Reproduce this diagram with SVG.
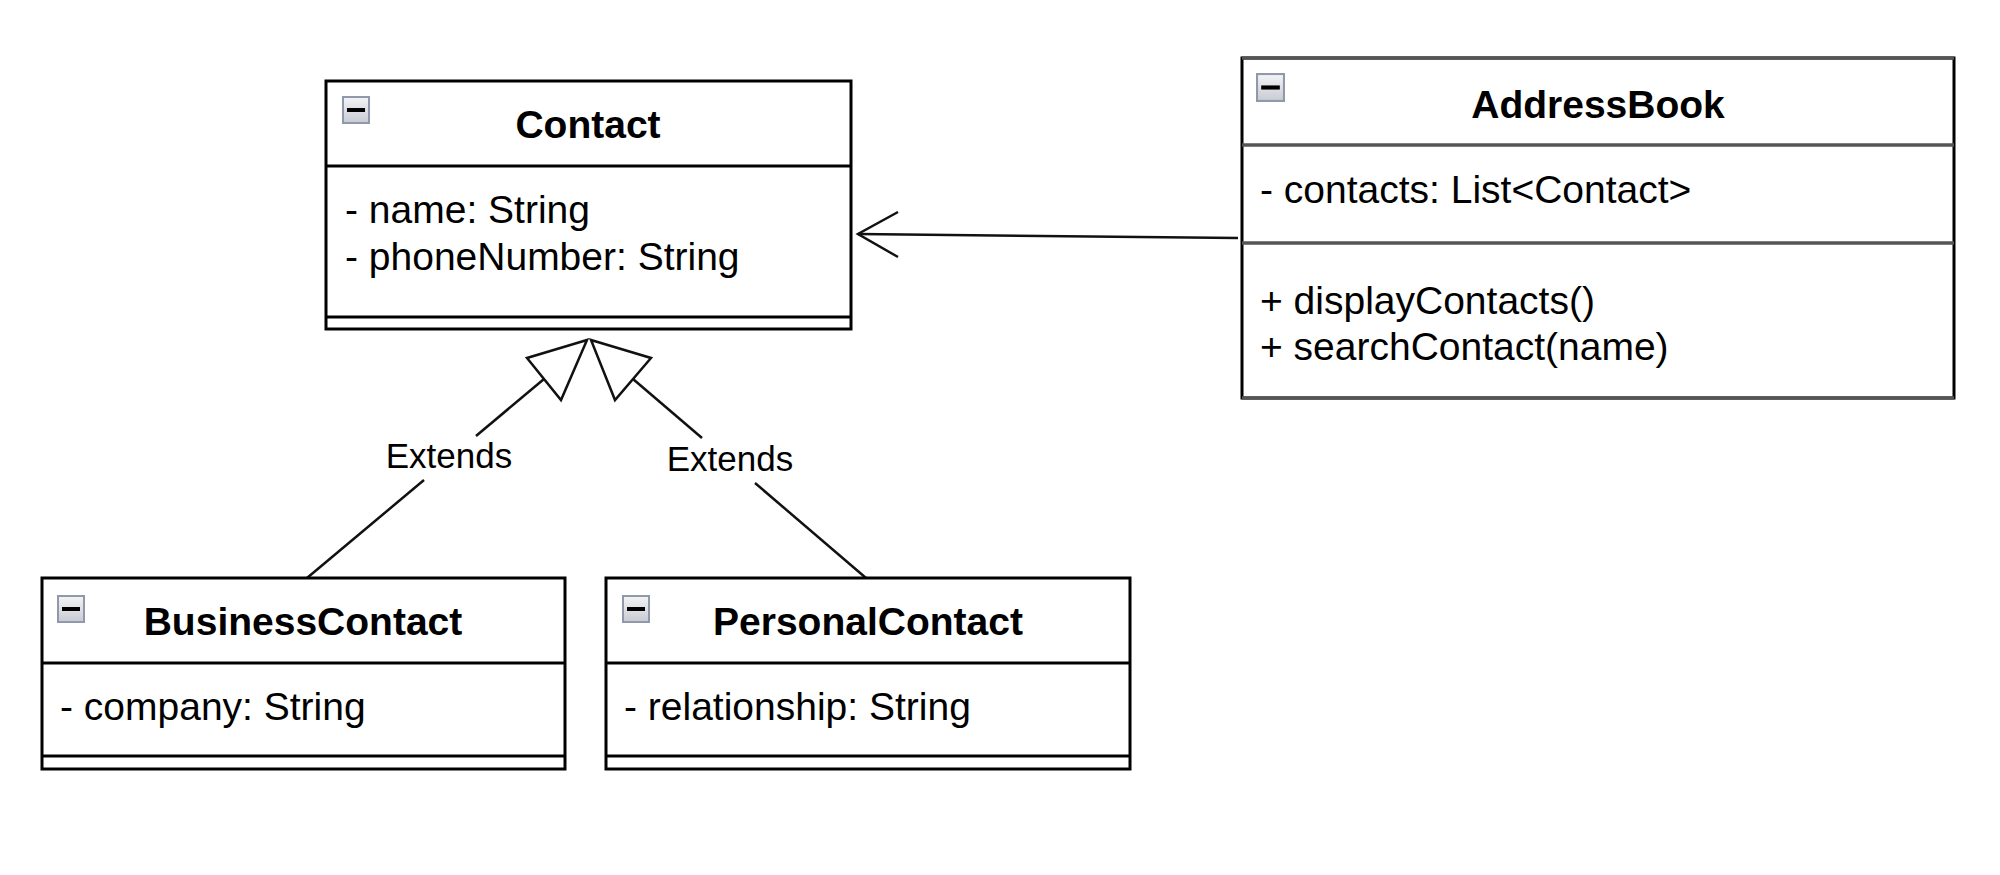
<svg xmlns="http://www.w3.org/2000/svg" width="2000" height="875" viewBox="0 0 2000 875">
<style>
.box{fill:#fff;stroke:#000;stroke-width:3}
.sep{stroke:#000;stroke-width:3}
.gsep{stroke:#555;stroke-width:3.5}
.title{font-family:"Liberation Sans",Arial,sans-serif;font-size:39px;font-weight:bold;fill:#000;text-anchor:middle}
.attr{font-family:"Liberation Sans",Arial,sans-serif;font-size:39px;fill:#000}
.lbl{font-family:"Liberation Sans",Arial,sans-serif;font-size:35px;fill:#000;text-anchor:middle}
.edge{fill:none;stroke:#111;stroke-width:2.5}
.tri{fill:#fff;stroke:#111;stroke-width:2.5;stroke-linejoin:miter}
.icon rect.o{fill:url(#ig);stroke:#8f99ab;stroke-width:2}
.icon rect.m{fill:#000}
</style>
<defs>
<linearGradient id="ig" x1="0" y1="0" x2="0" y2="1">
<stop offset="0" stop-color="#f4f4f6"/>
<stop offset="1" stop-color="#c8cbd2"/>
</linearGradient>
<symbol id="collapse" viewBox="0 0 28 28">
<rect class="o" x="1" y="1" width="26" height="26" fill="url(#ig)" stroke="#8f99ab" stroke-width="2"/>
<rect class="m" x="5" y="12" width="18" height="4" fill="#000"/>
</symbol>
</defs>
<rect width="2000" height="875" fill="#fff"/>

<g id="connectors">
<!-- association AddressBook -> Contact -->
<line class="edge" x1="1238" y1="238" x2="858" y2="234"/>
<polyline class="edge" points="898,212 858,234 898,257"/>
<!-- BusinessContact extends Contact -->
<line class="edge" x1="307" y1="578" x2="424" y2="480"/>
<line class="edge" x1="476" y1="436" x2="544" y2="379"/>
<polygon class="tri" points="587,340 527,358 561,400"/>
<text class="lbl" x="449" y="468">Extends</text>
<!-- PersonalContact extends Contact -->
<line class="edge" x1="866" y1="578" x2="755" y2="483"/>
<line class="edge" x1="702" y1="438" x2="633" y2="379"/>
<polygon class="tri" points="591,340 651,358 615,400"/>
<text class="lbl" x="730" y="471">Extends</text>
</g>

<g id="Contact">
<rect class="box" x="326" y="81" width="525" height="248"/>
<line class="sep" x1="326" y1="166" x2="851" y2="166"/>
<line class="sep" x1="326" y1="317" x2="851" y2="317"/>
<use href="#collapse" x="342" y="96" width="28" height="28"/>
<text class="title" x="588" y="138">Contact</text>
<text class="attr" x="345" y="223">- name: String</text>
<text class="attr" x="345" y="270">- phoneNumber: String</text>
</g>

<g id="AddressBook">
<rect class="box" x="1242" y="58" width="712" height="340"/>
<line class="gsep" x1="1242" y1="58" x2="1954" y2="58"/>
<line class="gsep" x1="1242" y1="145" x2="1954" y2="145"/>
<line class="gsep" x1="1242" y1="243" x2="1954" y2="243"/>
<line class="gsep" x1="1242" y1="398" x2="1954" y2="398"/>
<use href="#collapse" x="1256" y="73" width="29" height="29"/>
<text class="title" x="1598" y="118">AddressBook</text>
<text class="attr" x="1260" y="203">- contacts: List&lt;Contact&gt;</text>
<text class="attr" x="1260" y="314">+ displayContacts()</text>
<text class="attr" x="1260" y="360">+ searchContact(name)</text>
</g>

<g id="BusinessContact">
<rect class="box" x="42" y="578" width="523" height="191"/>
<line class="sep" x1="42" y1="663" x2="565" y2="663"/>
<line class="sep" x1="42" y1="756" x2="565" y2="756"/>
<use href="#collapse" x="57" y="595" width="28" height="28"/>
<text class="title" x="303" y="635">BusinessContact</text>
<text class="attr" x="60" y="720">- company: String</text>
</g>

<g id="PersonalContact">
<rect class="box" x="606" y="578" width="524" height="191"/>
<line class="sep" x1="606" y1="663" x2="1130" y2="663"/>
<line class="sep" x1="606" y1="756" x2="1130" y2="756"/>
<use href="#collapse" x="622" y="595" width="28" height="28"/>
<text class="title" x="868" y="635">PersonalContact</text>
<text class="attr" x="624" y="720">- relationship: String</text>
</g>
</svg>
